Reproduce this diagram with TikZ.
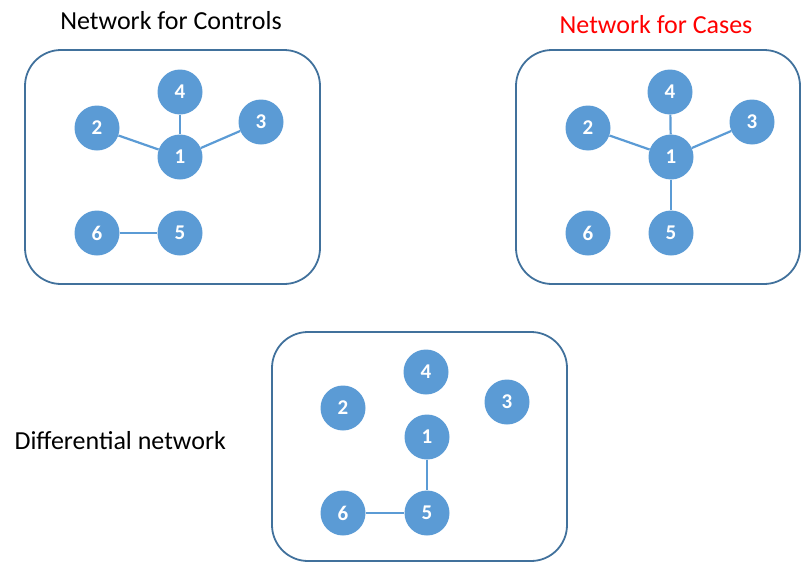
\documentclass[tikz,border=0pt]{standalone}
\usepackage{fontspec}
\setmainfont{Carlito}
\definecolor{nodeblue}{HTML}{5B9BD5}
\definecolor{boxblue}{HTML}{41719C}
\begin{document}
\begin{tikzpicture}[x=1pt,y=-1pt,
  nd/.style={circle,fill=nodeblue,draw=none,minimum size=45pt,inner sep=0pt,text=white,font=\fontsize{21}{24}\selectfont\bfseries},
  edge/.style={draw=nodeblue,line width=2.2pt},
  frame/.style={draw=boxblue,line width=1.8pt,rounded corners=36pt},
  ttl/.style={font=\fontsize{26}{30}\selectfont,anchor=base}]
\useasboundingbox (0,0) rectangle (802,562);
\clip (0,0) rectangle (802,562);
% titles
\node[ttl] (t1) at (171,29) {Network for Controls};
\node[ttl,text=red] (t2) at (656,33) {Network for Cases};
\node[ttl,anchor=base west] (t3) at (11,449) {Differential network};
% frames
\draw[frame] (25,50) rectangle (320,284);
\draw[frame] (516,50) rectangle (800,284);
\draw[frame] (272,332) rectangle (567,561);
% controls
\node[nd] (a4) at (180,92) {4};
\node[nd] (a2) at (97,128) {2};
\node[nd] (a1) at (180,157) {1};
\node[nd] (a3) at (261,122) {3};
\node[nd] (a6) at (97,233) {6};
\node[nd] (a5) at (180,233) {5};
\draw[edge] (a1) -- (a4);
\draw[edge] (a1) -- (a2);
\draw[edge] (a1) -- (a3);
\draw[edge] (a6) -- (a5);
% cases
\node[nd] (b4) at (670,92) {4};
\node[nd] (b2) at (588,128) {2};
\node[nd] (b1) at (671,157) {1};
\node[nd] (b3) at (752,122) {3};
\node[nd] (b6) at (588,233) {6};
\node[nd] (b5) at (671,233) {5};
\draw[edge] (b1) -- (b4);
\draw[edge] (b1) -- (b2);
\draw[edge] (b1) -- (b3);
\draw[edge] (b1) -- (b5);
% differential
\node[nd] (c4) at (426,372) {4};
\node[nd] (c2) at (343,408) {2};
\node[nd] (c3) at (507,402) {3};
\node[nd] (c1) at (427,437) {1};
\node[nd] (c6) at (343,513) {6};
\node[nd] (c5) at (427,513) {5};
\draw[edge] (c1) -- (c5);
\draw[edge] (c6) -- (c5);
\end{tikzpicture}
\end{document}
